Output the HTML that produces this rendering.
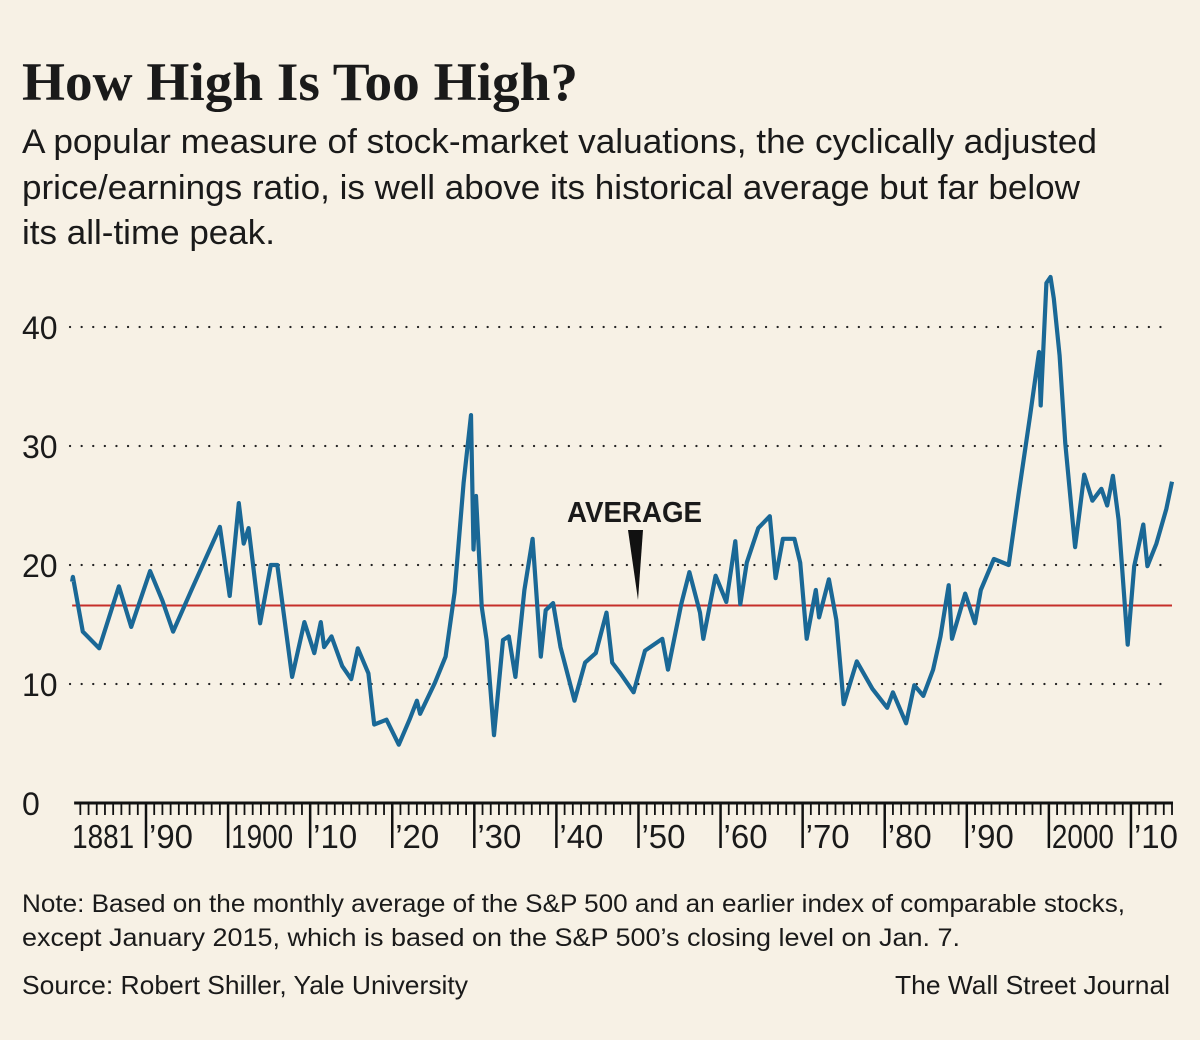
<!DOCTYPE html>
<html><head><meta charset="utf-8"><style>
html,body{margin:0;padding:0;background:#f7f1e5;}
svg{display:block;}
text{font-family:"Liberation Sans",sans-serif;fill:#1a1a1a;}
</style></head><body>
<svg id="chart" width="1200" height="1040" viewBox="0 0 1200 1040">
<rect width="1200" height="1040" fill="#f7f1e5"/>
<text x="22" y="100" font-family="Liberation Serif" font-weight="bold" font-size="54" textLength="556" lengthAdjust="spacingAndGlyphs" style="font-family:'Liberation Serif',serif">How High Is Too High?</text>
<g font-size="34">
<text x="22" y="153" textLength="1075" lengthAdjust="spacingAndGlyphs">A popular measure of stock-market valuations, the cyclically adjusted</text>
<text x="22" y="199" textLength="1058" lengthAdjust="spacingAndGlyphs">price/earnings ratio, is well above its historical average but far below</text>
<text x="22" y="244" textLength="253" lengthAdjust="spacingAndGlyphs">its all-time peak.</text>
</g>
<g id="grid"></g>
<g id="yticks"></g>
<g id="xaxis"></g>
<line id="avg" stroke="#c62f2a" stroke-width="2"/>
<path id="series" fill="none" stroke="#1a6896" stroke-width="4.2" stroke-linejoin="round"/>
<text x="567" y="522" font-weight="bold" font-size="29" textLength="135" lengthAdjust="spacingAndGlyphs">AVERAGE</text>
<polygon points="628,530 643,530 638,600" fill="#111"/>
<g font-size="25">
<text x="22" y="912" textLength="1103" lengthAdjust="spacingAndGlyphs">Note: Based on the monthly average of the S&amp;P 500 and an earlier index of comparable stocks,</text>
<text x="22" y="946" textLength="938" lengthAdjust="spacingAndGlyphs">except January 2015, which is based on the S&amp;P 500’s closing level on Jan. 7.</text>
</g>
<text x="22" y="994" font-size="26" textLength="446" lengthAdjust="spacingAndGlyphs">Source: Robert Shiller, Yale University</text>
<text x="1170" y="994" font-size="26" text-anchor="end" textLength="275" lengthAdjust="spacingAndGlyphs">The Wall Street Journal</text>
</svg>
<script>
const years = [1881.0,1881.1,1882.3,1884.3,1886.7,1888.2,1890.5,1892.0,1893.3,1895.6,1899.0,1900.2,1901.3,1901.9,1902.5,1903.9,1905.2,1906.0,1907.8,1909.3,1910.5,1911.3,1911.7,1912.6,1913.9,1915.0,1915.8,1917.1,1917.8,1919.3,1920.8,1922.1,1923.0,1923.4,1925.2,1926.5,1927.6,1928.7,1929.6,1929.9,1930.2,1930.9,1931.5,1932.4,1933.5,1934.2,1935.0,1936.1,1937.1,1938.1,1938.7,1939.6,1940.5,1942.2,1943.5,1944.8,1946.1,1946.8,1947.8,1949.4,1950.8,1952.9,1953.6,1955.2,1956.2,1957.5,1957.9,1959.4,1960.7,1961.8,1962.4,1963.2,1964.6,1966.0,1966.7,1967.6,1969.0,1969.7,1970.5,1971.6,1972.0,1973.2,1974.1,1975.0,1976.6,1978.5,1980.3,1981.0,1982.6,1983.6,1984.7,1985.9,1986.8,1987.8,1988.2,1989.8,1991.0,1991.7,1993.3,1995.1,1996.3,1997.7,1998.8,1999.0,1999.7,2000.2,2000.6,2001.3,2002.0,2003.2,2004.3,2005.3,2006.4,2007.1,2007.8,2008.5,2009.6,2010.4,2011.5,2012.0,2013.1,2014.3,2015.0];
const cape = [18.6,19.0,14.4,13.0,18.2,14.8,19.5,17.0,14.4,18.0,23.2,17.4,25.2,21.8,23.1,15.1,20.0,20.0,10.6,15.2,12.6,15.2,13.1,14.0,11.5,10.4,13.0,10.9,6.6,7.0,4.9,7.0,8.6,7.5,10.1,12.3,17.7,26.9,32.6,21.3,25.8,16.5,13.7,5.7,13.7,14.0,10.6,17.9,22.2,12.3,16.2,16.8,13.1,8.6,11.8,12.6,16.0,11.8,10.9,9.3,12.8,13.8,11.2,16.7,19.4,16.0,13.8,19.1,16.9,22.0,16.7,20.2,23.1,24.1,18.9,22.2,22.2,20.2,13.8,17.9,15.6,18.8,15.4,8.3,11.9,9.6,8.0,9.3,6.7,9.9,9.0,11.2,14.0,18.3,13.8,17.6,15.1,17.9,20.5,20.0,25.9,32.5,37.9,33.4,43.7,44.2,42.4,37.6,30.2,21.5,27.6,25.4,26.4,25.0,27.5,23.8,13.3,19.9,23.4,19.9,21.8,24.7,27.0];
const average = [16.6];
const yTicks = [0,10,20,30,40];
const xLabels = ["1881","’90","1900","’10","’20","’30","’40","’50","’60","’70","’80","’90","2000","’10"];
const xLabelYears = [1881,1890,1900,1910,1920,1930,1940,1950,1960,1970,1980,1990,2000,2010];

const NS = "http://www.w3.org/2000/svg";
function X(yr){ return 146 + (yr - 1890) * 8.208; }
function Y(v){ return 803 - v * 11.9; }
function mk(tag, attrs, parent){ const e = document.createElementNS(NS, tag); for (const k in attrs) e.setAttribute(k, attrs[k]); parent.appendChild(e); return e; }

const grid = document.getElementById('grid');
const yt = document.getElementById('yticks');
yTicks.forEach(v => {
  if (v > 0) {
    const l = mk('line', {x1:70, x2:1168, y1:Y(v), y2:Y(v), stroke:'#222', 'stroke-width':2.2, 'stroke-dasharray':'0.1 11.5', 'stroke-linecap':'round'}, grid);
    
    
  }
  const t = mk('text', {x:22, y:Y(v) + 12, 'font-size':32}, yt);
  t.textContent = v;
  
  
});

const xa = document.getElementById('xaxis');
const axis = mk('line', {x1:X(1881)+2, x2:X(2015)+1, y1:803, y2:803, stroke:'#111', 'stroke-width':3}, xa);


for (let yr = 1882; yr <= 2015; yr++) {
  const major = yr % 10 === 0;
  const tk = mk('line', {x1:X(yr), x2:X(yr), y1:803, y2: major ? 848 : 815, stroke:'#111', 'stroke-width': major ? 2.5 : 1.8}, xa);
  
  
}
xLabels.forEach((lab, i) => {
  const yr = xLabelYears[i];
  const x0 = yr === 1881 ? X(1881) : X(yr) + 3;
  const w = lab.length === 4 ? 62 : 44;
  const t = mk('text', {x:x0, y:848, 'font-size':33, textLength:w, lengthAdjust:'spacingAndGlyphs'}, xa);
  t.textContent = lab;
  
  
});

const avg = document.getElementById('avg');
avg.setAttribute('x1', X(1881));
avg.setAttribute('x2', X(2015));
avg.setAttribute('y1', Y(average[0]));
avg.setAttribute('y2', Y(average[0]));

let d = '';
years.forEach((yr, i) => { d += (i ? 'L' : 'M') + X(yr).toFixed(1) + ',' + Y(cape[i]).toFixed(1); });
document.getElementById('series').setAttribute('d', d);
</script>
</body></html>
